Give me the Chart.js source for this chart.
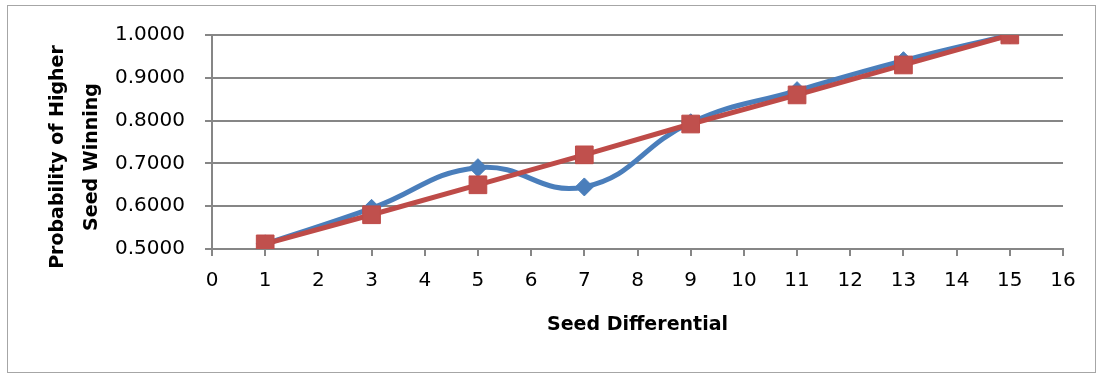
<!DOCTYPE html>
<html>
<head>
<meta charset="utf-8">
<script src="https://cdn.jsdelivr.net/npm/chart.js@4.4.1/dist/chart.umd.min.js"></script>
<style>
  html, body { margin: 0; padding: 0; background: #ffffff; }
  #wrap { position: relative; width: 1097px; height: 373px; }
</style>
</head>
<body>
<div id="wrap"><canvas id="chart" width="1097" height="373"></canvas></div>
<script>
// Seed differential (x) and probability that the higher seed wins (y)
const seedDiff = [1, 3, 5, 7, 9, 11, 13, 15];
const observedProb = [0.512, 0.595, 0.690, 0.645, 0.795, 0.870, 0.940, 1.000];
const fittedProb   = [0.512, 0.580, 0.650, 0.720, 0.792, 0.860, 0.930, 1.000];
const xTicks = [0, 1, 2, 3, 4, 5, 6, 7, 8, 9, 10, 11, 12, 13, 14, 15, 16];
const yTicks = [0.5, 0.6, 0.7, 0.8, 0.9, 1.0];

const xTitle = 'Seed Differential';
const yTitleLines = ['Probability of Higher', 'Seed Winning'];

const FONT = '"DejaVu Sans", "Open Sans", sans-serif';

const toPoints = (xs, ys) => xs.map((x, i) => ({ x, y: ys[i] }));

// Outer frame and axis titles
const framePlugin = {
  id: 'frame',
  beforeDraw(chart) {
    const ctx = chart.ctx;
    ctx.save();
    ctx.fillStyle = '#ffffff';
    ctx.fillRect(0, 0, chart.width, chart.height);
    ctx.strokeStyle = '#a6a6a6';
    ctx.lineWidth = 1;
    ctx.strokeRect(7.5, 5.5, chart.width - 9, chart.height - 6);
    ctx.restore();
  },
  afterDraw(chart) {
    const ctx = chart.ctx;
    const area = chart.chartArea;
    ctx.save();
    ctx.fillStyle = '#000000';
    ctx.font = 'bold 19px ' + FONT;
    ctx.textAlign = 'center';
    ctx.textBaseline = 'middle';
    ctx.fillText(xTitle, (area.left + area.right) / 2, 325);
    ctx.translate(75, 157);
    ctx.rotate(-Math.PI / 2);
    ctx.fillText(yTitleLines[0], 0, -17);
    ctx.fillText(yTitleLines[1], 0, 17);
    ctx.restore();
  }
};

new Chart(document.getElementById('chart'), {
  type: 'scatter',
  data: {
    datasets: [
      {
        label: 'Fitted',
        data: toPoints(seedDiff, fittedProb),
        showLine: true,
        tension: 0,
        borderColor: '#be4b48',
        backgroundColor: '#be4b48',
        borderWidth: 5,
        pointStyle: 'rect',
        pointRadius: 12.5,
        pointBorderWidth: 1,
        pointBorderColor: '#be4b48',
        pointBackgroundColor: '#c0504d',
        order: 0
      },
      {
        label: 'Observed',
        data: toPoints(seedDiff, observedProb),
        showLine: true,
        tension: 0.45,
        borderColor: '#4a7ebb',
        backgroundColor: '#4a7ebb',
        borderWidth: 5,
        pointStyle: 'rectRot',
        pointRadius: 9,
        pointBorderWidth: 1,
        pointBorderColor: '#4a7ebb',
        pointBackgroundColor: '#4a7ebb',
        order: 1
      }
    ]
  },
  options: {
    responsive: false,
    animation: false,
    layout: { padding: { top: 35, right: 34, bottom: 0, left: 0 } },
    plugins: {
      legend: { display: false },
      tooltip: { enabled: false }
    },
    scales: {
      x: {
        type: 'linear',
        min: xTicks[0],
        max: xTicks[xTicks.length - 1],
        afterBuildTicks: (scale) => { scale.ticks = xTicks.map(v => ({ value: v })); },
        afterFit: (scale) => { scale.height = 124; },
        ticks: {
          color: '#000000',
          font: { family: FONT, size: 20 },
          padding: 13,
          maxRotation: 0,
          autoSkip: false
        },
        grid: {
          drawOnChartArea: false,
          drawTicks: true,
          tickLength: 7,
          color: '#868686',
          lineWidth: 2
        },
        border: { display: true, color: '#868686', width: 2 }
      },
      y: {
        type: 'linear',
        min: yTicks[0],
        max: yTicks[yTicks.length - 1],
        afterBuildTicks: (scale) => { scale.ticks = yTicks.map(v => ({ value: v })); },
        afterFit: (scale) => { scale.width = 212; },
        ticks: {
          color: '#000000',
          font: { family: FONT, size: 20 },
          padding: 20,
          callback: (v) => Number(v).toFixed(4)
        },
        grid: {
          drawOnChartArea: true,
          drawTicks: true,
          tickLength: 7,
          color: '#868686',
          lineWidth: 2
        },
        border: { display: true, color: '#868686', width: 2 }
      }
    }
  },
  plugins: [framePlugin]
});
</script>
</body>
</html>
